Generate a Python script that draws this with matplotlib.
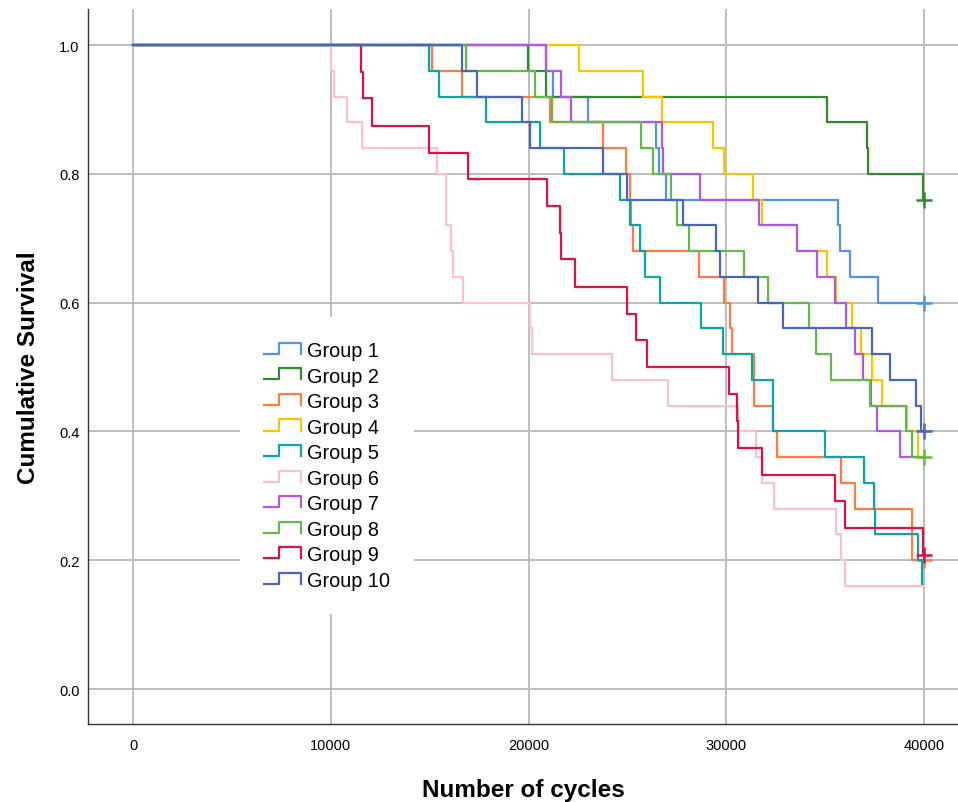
import matplotlib
matplotlib.use('Agg')
import matplotlib.pyplot as plt
from matplotlib.lines import Line2D
from matplotlib.legend_handler import HandlerBase

plt.rcParams['font.family'] = ['Liberation Sans', 'DejaVu Sans']

# 데이터: 각 그룹의 생존 곡선 (하강 시점 cycles, 하강 후 생존율)
labels = ['Group 1', 'Group 2', 'Group 3', 'Group 4', 'Group 5',
          'Group 6', 'Group 7', 'Group 8', 'Group 9', 'Group 10']
colors = ['#4f94e8', '#2e8b2e', '#fb7d45', '#f7c600', '#0fa3a3',
          '#ffbfd0', '#b057e6', '#63b84a', '#dd1144', '#4a66b8']

g1_t = [20880, 21250, 23020, 26450, 26620, 26950, 35670, 35750, 36260, 37690]
g1_s = [0.96, 0.92, 0.88, 0.84, 0.80, 0.76, 0.72, 0.68, 0.64, 0.60]

g2_t = [19990, 20880, 35110, 37100, 37150, 39960]
g2_s = [0.96, 0.92, 0.88, 0.84, 0.80, 0.76]

g3_t = [15140, 16620, 21090, 23790, 24910, 25130, 25160, 25270, 28640, 29890,
        30190, 30280, 31400, 31420, 32350, 32580, 35790, 36510, 39380, 39400]
g3_s = [0.96, 0.92, 0.88, 0.84, 0.80, 0.76, 0.72, 0.68, 0.64, 0.60,
        0.56, 0.52, 0.48, 0.44, 0.40, 0.36, 0.32, 0.28, 0.24, 0.20]

g4_t = [22570, 25810, 26770, 29350, 29890, 31370, 31790, 33560, 35080, 35550,
        36340, 36800, 37370, 37880, 39150, 39700]
g4_s = [0.96, 0.92, 0.88, 0.84, 0.80, 0.76, 0.72, 0.68, 0.64, 0.60,
        0.56, 0.52, 0.48, 0.44, 0.40, 0.36]

g5_t = [14970, 15490, 17850, 20580, 21800, 24630, 25130, 25640, 25890, 26650,
        28720, 29810, 31320, 32370, 32380, 34990, 36970, 37470, 37500, 39710, 39880]
g5_s = [0.96, 0.92, 0.88, 0.84, 0.80, 0.76, 0.72, 0.68, 0.64, 0.60,
        0.56, 0.52, 0.48, 0.44, 0.40, 0.36, 0.32, 0.28, 0.24, 0.20, 0.16]

g6_t = [9990, 10140, 10810, 11570, 15390, 15830, 15840, 16070, 16200, 16700,
        20080, 20160, 24210, 27070, 30610, 31500, 31790, 32410, 35550, 35790, 36010]
g6_s = [0.96, 0.92, 0.88, 0.84, 0.80, 0.76, 0.72, 0.68, 0.64, 0.60,
        0.56, 0.52, 0.48, 0.44, 0.40, 0.36, 0.32, 0.28, 0.24, 0.20, 0.16]

g7_t = [20880, 21630, 22130, 26740, 26820, 28670, 31670, 33560, 34600, 35500,
        36040, 36510, 36900, 37300, 37620, 38790]
g7_s = [0.96, 0.92, 0.88, 0.84, 0.80, 0.76, 0.72, 0.68, 0.64, 0.60,
        0.56, 0.52, 0.48, 0.44, 0.40, 0.36]

g8_t = [16820, 20330, 21170, 25670, 26310, 27190, 27530, 28130, 30900, 32130,
        34190, 34520, 35300, 37270, 39090, 39400]
g8_s = [0.96, 0.92, 0.88, 0.84, 0.80, 0.76, 0.72, 0.68, 0.64, 0.60,
        0.56, 0.52, 0.48, 0.44, 0.40, 0.36]

g9_t = [11510, 11620, 12070, 14970, 16940, 20950, 21590, 21630, 22350, 24970,
        25420, 25980, 30150, 30530, 30610, 31820, 35500, 36010, 39970]
g9_s = [0.958, 0.917, 0.875, 0.833, 0.792, 0.750, 0.708, 0.667, 0.625, 0.583,
        0.542, 0.500, 0.458, 0.417, 0.375, 0.333, 0.292, 0.250, 0.208]

g10_t = [16620, 17380, 19660, 20080, 23750, 24970, 27800, 29480, 29690, 31590,
         32890, 37390, 38280, 39600, 39850]
g10_s = [0.96, 0.92, 0.88, 0.84, 0.80, 0.76, 0.72, 0.68, 0.64, 0.60,
         0.56, 0.52, 0.48, 0.44, 0.40]

times = [g1_t, g2_t, g3_t, g4_t, g5_t, g6_t, g7_t, g8_t, g9_t, g10_t]
survs = [g1_s, g2_s, g3_s, g4_s, g5_s, g6_s, g7_s, g8_s, g9_s, g10_s]
censored = [True, True, True, False, False, False, False, True, True, True]
end_cycle = 40000


# 범례용 계단 모양 핸들
class StepHandler(HandlerBase):
    def create_artists(self, legend, orig_handle, xdescent, ydescent,
                       width, height, fontsize, trans):
        x0, y0 = -xdescent, -ydescent
        xs = [x0, x0 + 0.42 * width, x0 + 0.42 * width, x0 + width, x0 + width]
        ys = [y0 + 0.15 * height, y0 + 0.15 * height, y0 + 0.95 * height,
              y0 + 0.95 * height, y0 + 0.15 * height]
        line = Line2D(xs, ys, color=orig_handle.get_color(), lw=1.6)
        line.set_transform(trans)
        return [line]


fig = plt.figure(figsize=(9.58, 8.03), dpi=100)
ax = fig.add_axes([0.0919, 0.0971, 0.9081, 0.8904])

handles = []
for t, s, c, lab, cen in zip(times, survs, colors, labels, censored):
    xs = [0] + t + [end_cycle]
    ys = [1.0] + s + [s[-1]]
    line, = ax.step(xs, ys, where='post', color=c, lw=1.6, label=lab)
    handles.append(line)
    if cen:
        ax.plot([end_cycle], [s[-1]], marker='+', color=c, ms=11, mew=1.8,
                linestyle='none')

ax.set_xlim(-2276, 41719)
ax.set_ylim(-0.0543, 1.0559)
ax.set_xticks([0, 10000, 20000, 30000, 40000])
ax.set_yticks([0.0, 0.2, 0.4, 0.6, 0.8, 1.0])
ax.set_yticklabels(['0.0', '0.2', '0.4', '0.6', '0.8', '1.0'])
ax.grid(True, color='#bdbdbd', lw=1.4)
ax.set_axisbelow(True)
ax.tick_params(axis='x', labelsize=10.5, length=0, pad=10)
ax.tick_params(axis='y', labelsize=10.5, length=0, pad=6)
for side in ['top', 'right']:
    ax.spines[side].set_visible(False)
for side in ['left', 'bottom']:
    ax.spines[side].set_color('#333333')
    ax.spines[side].set_linewidth(1.0)

ax.set_xlabel('Number of cycles', fontsize=17.5, fontweight='bold', labelpad=19)
ax.set_ylabel('Cumulative Survival', fontsize=17.5, fontweight='bold', labelpad=14)

leg = ax.legend(handles=handles, handler_map={Line2D: StepHandler()},
                loc='upper left', bbox_to_anchor=(0.163, 0.583),
                fontsize=14.3, frameon=True, facecolor='white', edgecolor='none',
                framealpha=1, fancybox=False, handlelength=1.9,
                handletextpad=0.3, labelspacing=0.33, borderpad=1.2)
leg.set_zorder(5)

plt.savefig('out.png', dpi=100)
